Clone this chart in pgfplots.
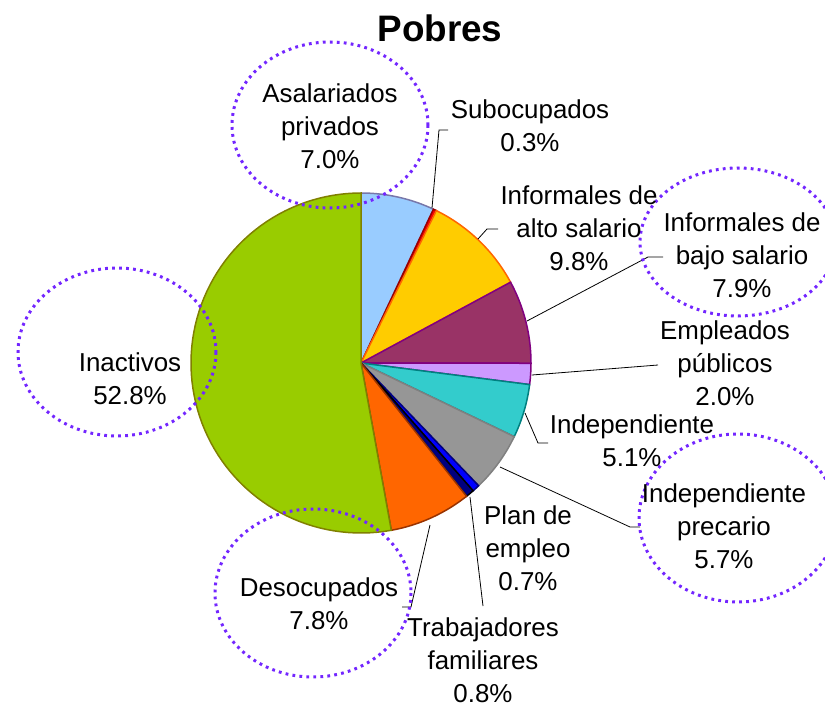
\documentclass[border=0pt]{standalone}
\usepackage{fontspec}
\setmainfont{Liberation Sans}
\usepackage{pgfplots}
\pgfplotsset{compat=1.18}
\definecolor{cAsal}{HTML}{99CCFF}\definecolor{dAsal}{HTML}{7777AA}
\definecolor{cSub}{HTML}{FF0000}\definecolor{dSub}{HTML}{990000}
\definecolor{cAlto}{HTML}{FFCC00}\definecolor{dAlto}{HTML}{FF6600}
\definecolor{cBajo}{HTML}{993366}\definecolor{dBajo}{HTML}{800080}
\definecolor{cPub}{HTML}{CC99FF}\definecolor{dPub}{HTML}{800080}
\definecolor{cInd}{HTML}{33CCCC}\definecolor{dInd}{HTML}{008080}
\definecolor{cPrec}{HTML}{969696}\definecolor{dPrec}{HTML}{808080}
\definecolor{cPlan}{HTML}{0000FF}\definecolor{dPlan}{HTML}{000080}
\definecolor{cTrab}{HTML}{000080}\definecolor{dTrab}{HTML}{000000}
\definecolor{cDes}{HTML}{FF6600}\definecolor{dDes}{HTML}{993300}
\definecolor{cIna}{HTML}{99CC00}\definecolor{dIna}{HTML}{808000}
\definecolor{ellc}{HTML}{7326FF}
\newcommand\cum{0}
\newcommand\pieslice[3]{%
  \pgfmathsetmacro\aA{90-3.603604*(\cum+#1)}%
  \pgfmathsetmacro\aB{90-3.603604*(\cum)}%
  \edef\tmp{\noexpand\addplot[fill=#2,draw=#3,line width=0.75bp,domain=\aA:\aB,samples=80] ({361+170*cos(x)},{363-170*sin(x)}) -- (axis cs:361,363) -- cycle;}%
  \tmp
  \pgfmathsetmacro\newcum{\cum+#1}%
  \xdef\cum{\newcum}%
}
\tikzset{
  ell/.style={draw=ellc,line width=1.5bp,dash pattern=on 1.4bp off 2.1bp},
  lab/.style={align=center,font=\fontsize{13}{16.5}\selectfont,inner sep=0pt},
  lead/.style={draw=black,line width=0.4bp}
}
\begin{document}
\begin{tikzpicture}
\begin{axis}[hide axis, scale only axis, x=0.5bp, y=0.5bp,
  xmin=0, xmax=825, ymin=0, ymax=707, y dir=reverse, clip=true]
\pieslice{7.0}{cAsal}{dAsal}
\pieslice{0.3}{cSub}{dSub}
\pieslice{9.8}{cAlto}{dAlto}
\pieslice{7.9}{cBajo}{dBajo}
\pieslice{2.0}{cPub}{dPub}
\pieslice{5.1}{cInd}{dInd}
\pieslice{5.7}{cPrec}{dPrec}
\pieslice{0.7}{cPlan}{dPlan}
\pieslice{0.8}{cTrab}{dTrab}
\pieslice{7.8}{cDes}{dDes}
\pieslice{52.8}{cIna}{dIna}
% leader lines
\draw[lead] (axis cs:432,208) -- (axis cs:439,130) -- (axis cs:448,130);
\draw[lead] (axis cs:478,239) -- (axis cs:487,229) -- (axis cs:498,229);
\draw[lead] (axis cs:527,321) -- (axis cs:648,257) -- (axis cs:663,257);
\draw[lead] (axis cs:532,375) -- (axis cs:658,365);
\draw[lead] (axis cs:525,413) -- (axis cs:538,443) -- (axis cs:548,443);
\draw[lead] (axis cs:500,467) -- (axis cs:630,527) -- (axis cs:640,527);
\draw[lead] (axis cs:470,497) -- (axis cs:483,606);
\draw[lead] (axis cs:430,525) -- (axis cs:411,607) -- (axis cs:402,607);
% ellipses
\draw[ell] (axis cs:330,125) ellipse [x radius=98, y radius=83];
\draw[ell] (axis cs:117,352) ellipse [x radius=99, y radius=84];
\draw[ell] (axis cs:313,593) ellipse [x radius=98, y radius=84];
\draw[ell] (axis cs:738,242) ellipse [x radius=98, y radius=74];
\draw[ell] (axis cs:738,518) ellipse [x radius=99, y radius=84];
% labels
\node[font=\bfseries\fontsize{18.5}{22}\selectfont] at (axis cs:440,28) {Pobres};
\node[lab] at (axis cs:330,126) {Asalariados\\privados\\7.0\%};
\node[lab] at (axis cs:530,126) {Subocupados\\0.3\%};
\node[lab] at (axis cs:579,228) {Informales de\\alto salario\\9.8\%};
\node[lab] at (axis cs:742,255) {Informales de\\bajo salario\\7.9\%};
\node[lab] at (axis cs:725,363) {Empleados\\públicos\\2.0\%};
\node[lab] at (axis cs:632,441) {Independiente\\5.1\%};
\node[lab] at (axis cs:724,526) {Independiente\\precario\\5.7\%};
\node[lab] at (axis cs:528,548) {Plan de\\empleo\\0.7\%};
\node[lab] at (axis cs:483,660) {Trabajadores\\familiares\\0.8\%};
\node[lab] at (axis cs:319,604) {Desocupados\\7.8\%};
\node[lab] at (axis cs:130,379) {Inactivos\\52.8\%};
\end{axis}
\pgfresetboundingbox
\useasboundingbox (current axis.south west) rectangle (current axis.north east);
\end{tikzpicture}
\end{document}
